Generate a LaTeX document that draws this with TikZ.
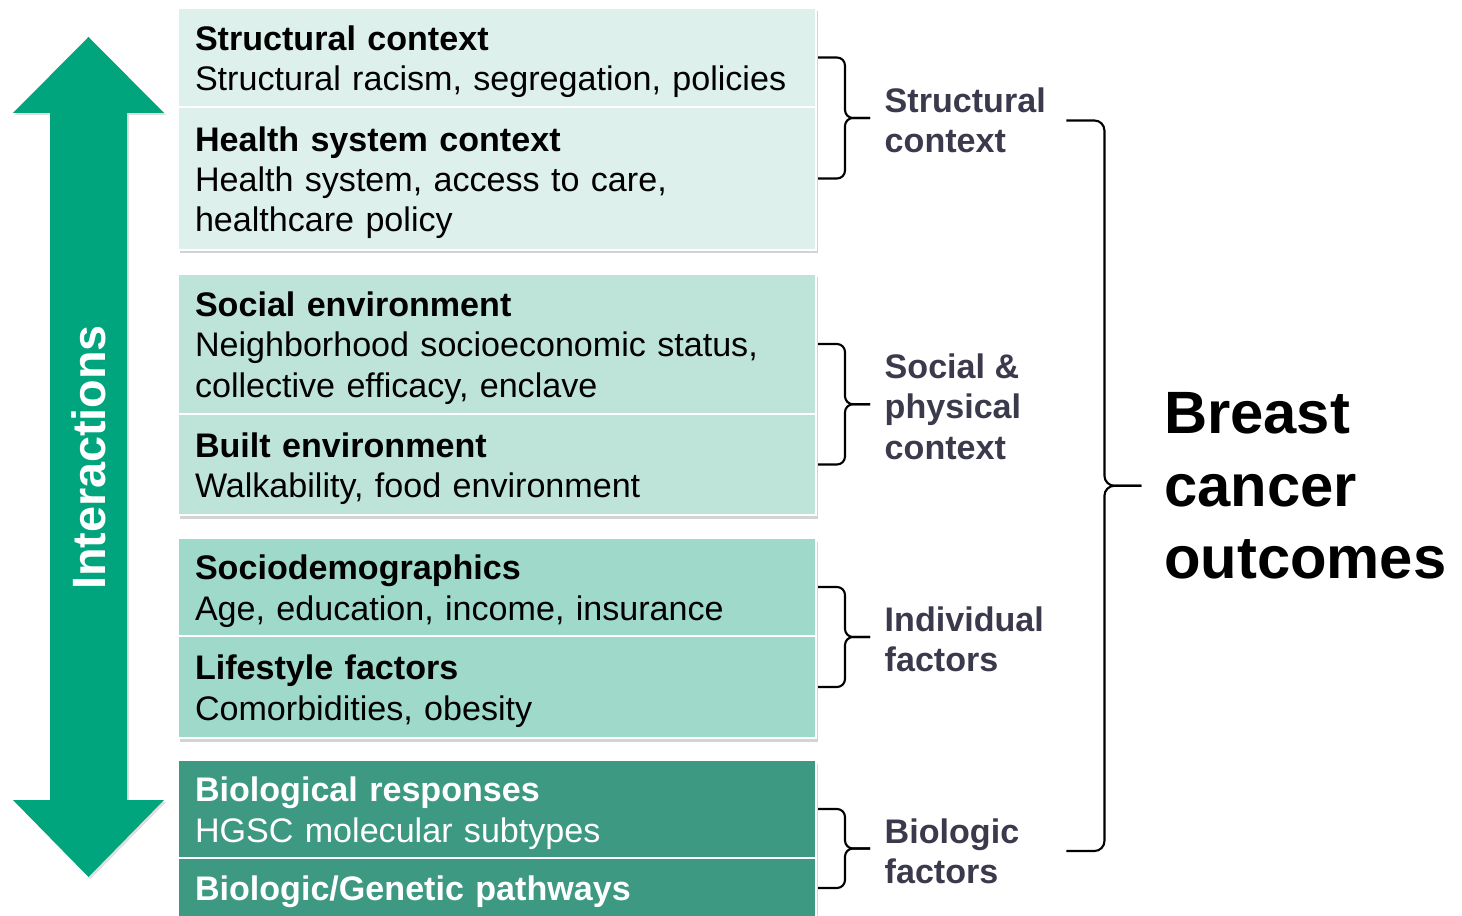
\documentclass[tikz,border=0pt]{standalone}
\usepackage{fontspec}
\setmainfont{Liberation Sans}
\usetikzlibrary{positioning, calc, fit, backgrounds, shadows}
\definecolor{arrowgreen}{HTML}{00A57E}
\definecolor{tintone}{HTML}{DEF0EB}
\definecolor{tinttwo}{HTML}{BEE4D9}
\definecolor{tintthree}{HTML}{9ED9C9}
\definecolor{tintfour}{HTML}{3D9981}
\definecolor{labelink}{HTML}{3B3A4D}
% taller strut on the first line pushes box text down a touch
\newcommand{\leadstrut}{\rule{0pt}{10.8pt}}

\begin{document}
\begin{tikzpicture}[
    factor/.style={draw=white, line width=0.5pt, outer sep=0pt, text width=6.04cm, inner xsep=0.17cm,
      inner ysep=0pt, align=left, font=\fontsize{9.7}{11.4}\selectfont},
    grouplabel/.style={text=labelink, inner sep=0pt, align=left, anchor=west, yshift=-0.025cm,
      font=\fontsize{9.7}{11.4}\selectfont\bfseries},
    bracket/.style={draw=black, line width=0.6pt, rounded corners=0.08cm},
    groupshadow/.style={inner sep=0pt, fill=white,
      drop shadow={shadow xshift=0.015cm, shadow yshift=-0.035cm, opacity=0.35}}
  ]
  \useasboundingbox (0,0) rectangle (14.62,9.15);
  \clip (0,0) rectangle (14.62,9.15);

  % ── Interactions arrow (double headed, heads 1.51 cm wide) ──────────────
  \fill[arrowgreen, drop shadow={shadow xshift=0.02cm, shadow yshift=-0.02cm, opacity=0.25}]
    (0.885,8.78) -- (1.64,8.02) -- (1.27,8.02) -- (1.27,1.15) -- (1.64,1.15)
    -- (0.885,0.38) -- (0.13,1.15) -- (0.50,1.15) -- (0.50,8.02) -- (0.13,8.02) -- cycle;
  \node[rotate=90, text=white, inner sep=0pt,
        font=\fontsize{13.3}{16}\selectfont\bfseries] (interactions) at (0.885,4.575) {Interactions};

  % ── Factor boxes, four groups of two ────────────────────────────────────
  \node[factor, fill=tintone, minimum height=0.99cm, anchor=north west] (structural) at (1.78,9.07)
    {\leadstrut\textbf{Structural context}\\Structural racism, segregation, policies\strut};
  \node[factor, fill=tintone, minimum height=1.43cm, below=0pt of structural] (health)
    {\leadstrut\textbf{Health system context}\\Health system, access to care,\\healthcare policy\strut};

  \node[factor, fill=tinttwo, minimum height=1.40cm, below=0.24 of health] (social)
    {\leadstrut\textbf{Social environment}\\Neighborhood socioeconomic status,\\collective efficacy, enclave\strut};
  \node[factor, fill=tinttwo, minimum height=1.01cm, below=0pt of social] (built)
    {\leadstrut\textbf{Built environment}\\Walkability, food environment\strut};

  \node[factor, fill=tintthree, minimum height=0.98cm, below=0.23 of built] (socdem)
    {\leadstrut\textbf{Sociodemographics}\\Age, education, income, insurance\strut};
  \node[factor, fill=tintthree, minimum height=1.02cm, below=0pt of socdem] (lifestyle)
    {\leadstrut\textbf{Lifestyle factors}\\Comorbidities, obesity\strut};

  \node[factor, fill=tintfour, text=white, minimum height=0.98cm, below=0.22 of lifestyle] (bioresp)
    {\leadstrut\textbf{Biological responses}\\HGSC molecular subtypes\strut};
  \node[factor, fill=tintfour, text=white, minimum height=0.60cm, below=0pt of bioresp] (biopath)
    {\leadstrut\textbf{Biologic/Genetic pathways}\strut};

  % soft shadow under each group
  \begin{scope}[on background layer]
    \foreach \a/\b in {structural/health, social/built, socdem/lifestyle, bioresp/biopath}
      \node[groupshadow, fit=(\a)(\b)] (\a-shade) {};
  \end{scope}

  % ── Braces from box pairs to group labels ───────────────────────────────
  \foreach \a/\b in {structural/health, social/built, socdem/lifestyle, bioresp/biopath}{
    \coordinate (\a-top) at ($(\a.east)+(0.02,0)$);
    \coordinate (\a-bot) at ($(\b.east)+(0.02,0)$);
    \coordinate (\a-mid) at ($(\a-top)!0.5!(\a-bot)+(0.27,0)$);
    \coordinate (\a-tip) at ($(\a-mid)+(0.25,0)$);
    \draw[bracket] (\a-top) -| (\a-mid) -- (\a-tip);
    \draw[bracket] (\a-bot) -| (\a-mid) -- (\a-tip);
  }

  \node[grouplabel, right=0.14 of structural-tip] (lblstruct) {Structural\\context};
  \node[grouplabel, right=0.14 of social-tip] (lblsocial) {Social \&\\physical\\context};
  \node[grouplabel, right=0.14 of socdem-tip] (lblindiv) {Individual\\factors};
  \node[grouplabel, right=0.14 of bioresp-tip] (lblbio) {Biologic\\factors};

  % ── Outer brace to the outcome ──────────────────────────────────────────
  \coordinate (outtop) at ($(lblstruct.east)+(0.2,0)$);
  \coordinate (outbot) at (outtop |- lblbio.west);
  \coordinate (outmid) at ($(outtop)!0.5!(outbot)+(0.38,0)$);
  \coordinate (outtip) at ($(outmid)+(0.37,0)$);
  \draw[bracket, rounded corners=0.1cm] (outtop) -| (outmid) -- (outtip);
  \draw[bracket, rounded corners=0.1cm] (outbot) -| (outmid) -- (outtip);

  \node[inner sep=0pt, align=left, anchor=west, right=0.22 of outtip,
        font=\fontsize{17}{20.5}\selectfont\bfseries] (outcomes) {Breast\\cancer\\outcomes};
\end{tikzpicture}
\end{document}
